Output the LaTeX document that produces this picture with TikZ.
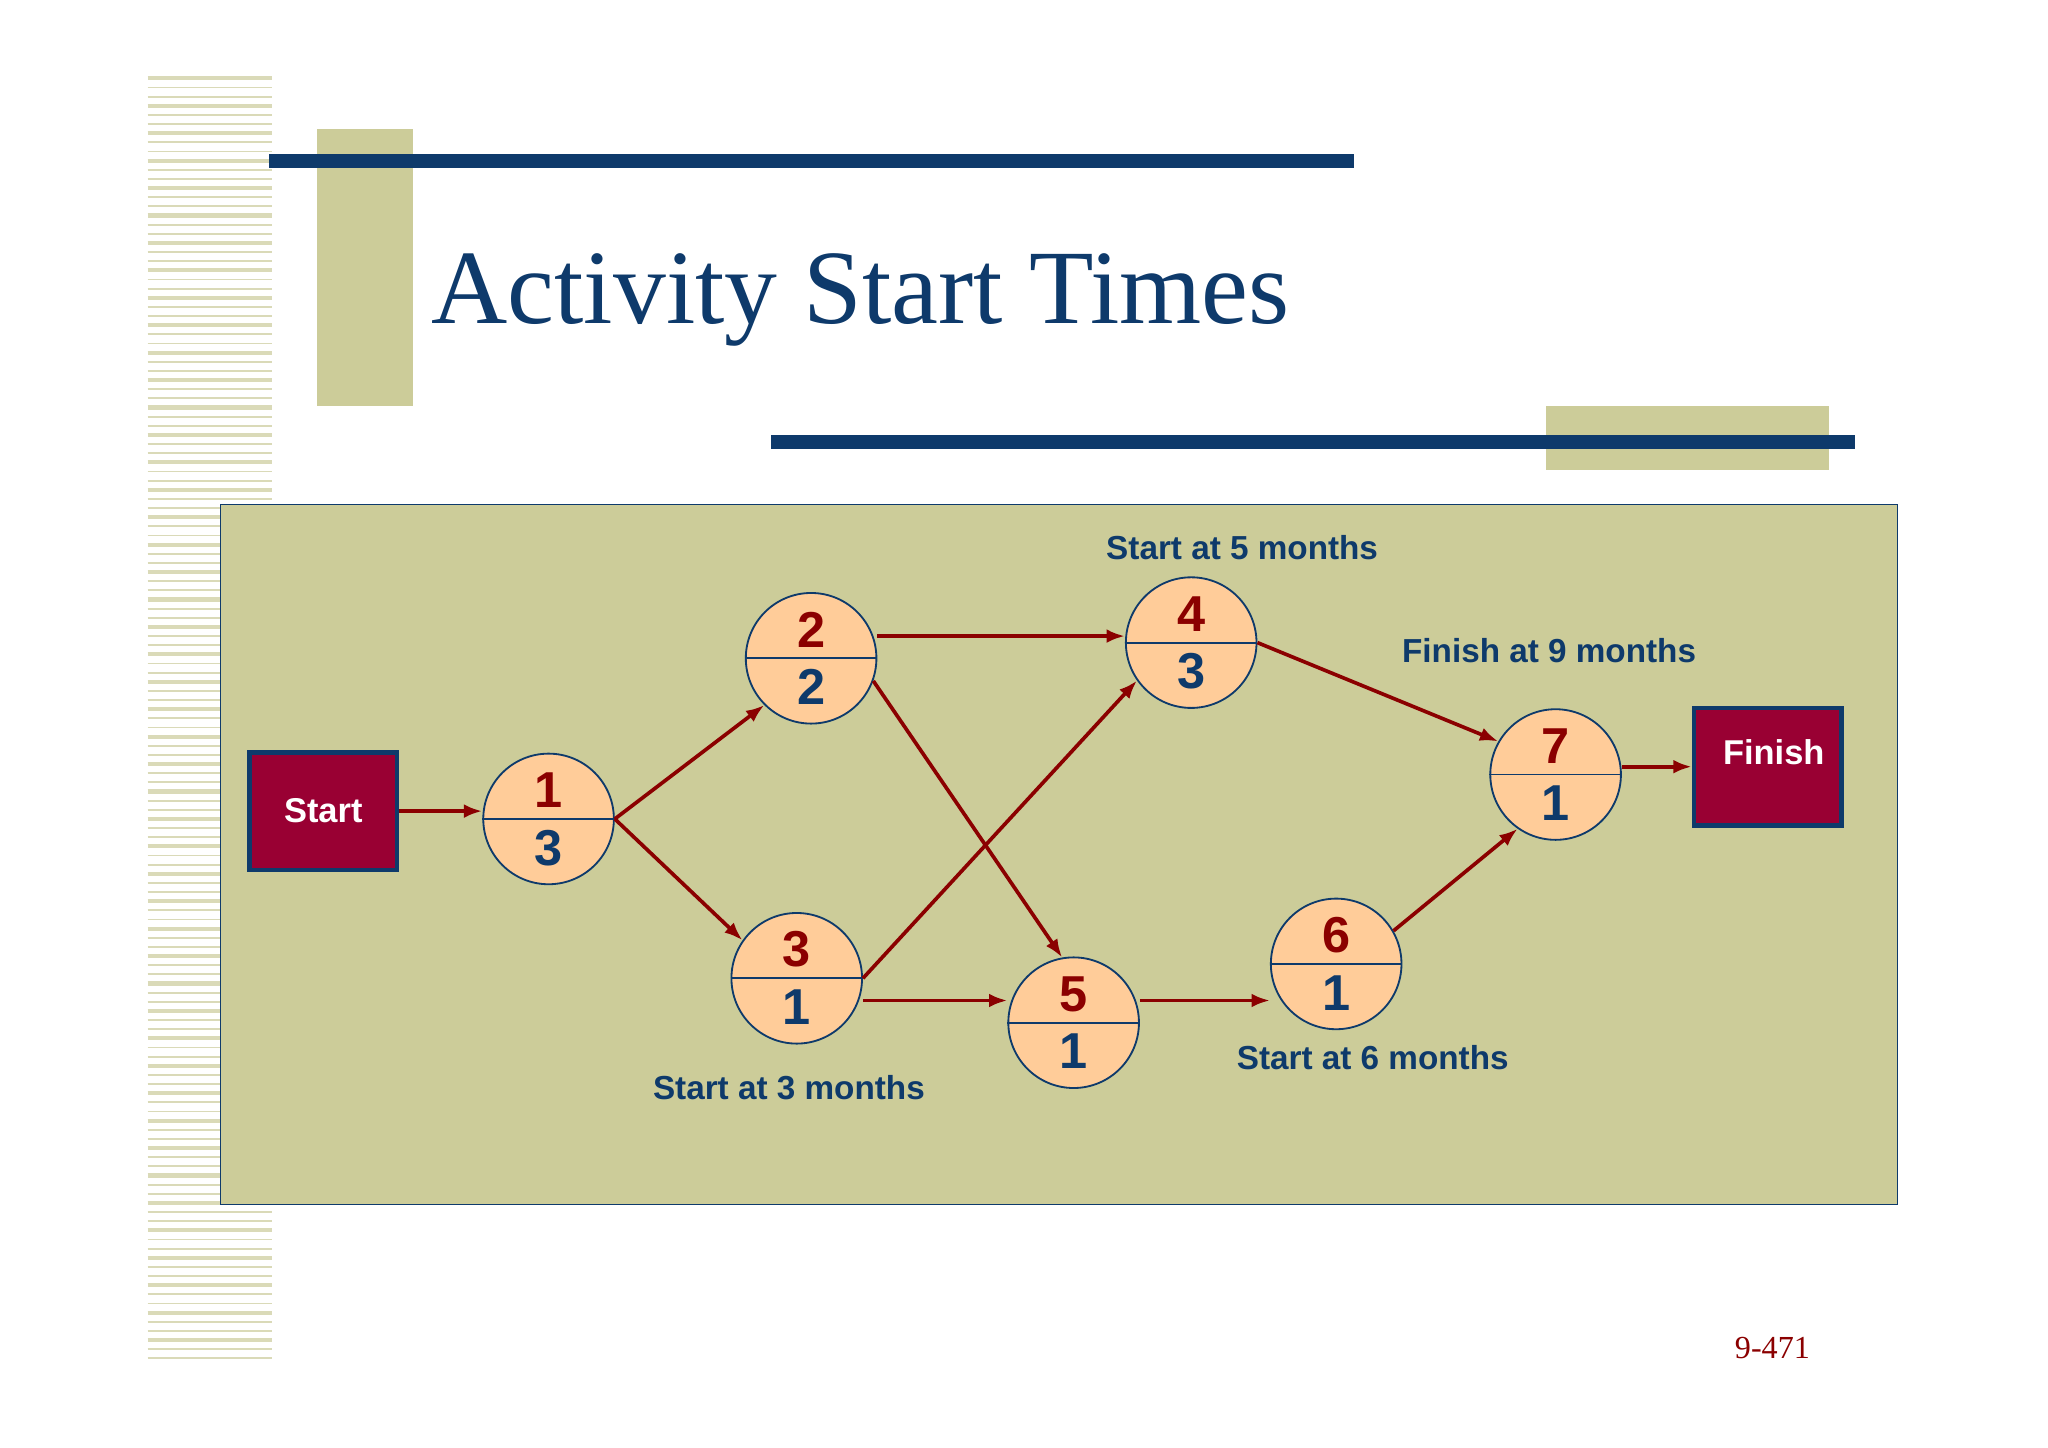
\documentclass[tikz,border=0pt]{standalone}
\usepackage{fontspec}
\setmainfont{Liberation Serif}
\setsansfont{Liberation Sans}
\usetikzlibrary{arrows.meta}
\definecolor{navy}{HTML}{0E3A6B}
\definecolor{olive}{HTML}{CCCC99}
\definecolor{oliveL}{HTML}{DADAB8}
\definecolor{peach}{HTML}{FFCC99}
\definecolor{dred}{HTML}{8B0000}
\definecolor{boxred}{HTML}{990033}
\tikzset{
 act/.style={circle,draw=navy,thick,fill=peach,minimum size=100*0.02cm,inner sep=0pt},
 lab/.style={font=\sffamily\bfseries\fontsize{14.5}{16}\selectfont,text=navy},
 con/.style={draw=dred,line width=1.6pt,-{Latex[length=8pt,width=6pt]}},
 endbox/.style={draw=navy,line width=2pt,fill=boxred,text=white,font=\sffamily\bfseries\fontsize{15}{17}\selectfont,minimum width=113*0.02cm,minimum height=90*0.02cm}
}
\newcommand{\actnode}[4]{%
 \node[act] (#1) at (#2) {};
 \draw[navy,thick] (#1.west) -- (#1.east);
 \node[font=\sffamily\bfseries\fontsize{22}{22}\selectfont,text=dred] at ([yshift=22*0.02cm]#1.center) {#3};
 \node[font=\sffamily\bfseries\fontsize{22}{22}\selectfont,text=navy] at ([yshift=-22*0.02cm]#1.center) {#4};}
\begin{document}
\begin{tikzpicture}[x=0.02cm,y=-0.02cm]
\useasboundingbox[fill=white] (0,0) rectangle (1568,1108);
% left stripes
\foreach \i in {0,...,140}{
 \pgfmathsetmacro{\yy}{60+7*\i}
 \pgfmathsetmacro{\w}{mod(\i,3)==0?1.8:0.8}
 \draw[oliveL,line width=\w pt] (113,\yy) -- (208,\yy);
}
\fill[olive] (243,99) rectangle (316,311);
\fill[navy] (206,118) rectangle (1037,129);
\node[anchor=base west,inner sep=0pt,text=navy,font=\fontsize{46}{50}\selectfont] (title) at (330,248) {Activity Start Times};
\fill[olive] (1184,311) rectangle (1400,360);
\fill[navy] (590,333) rectangle (1420,344);
% panel
\draw[navy,fill=olive] (169,386) rectangle (1453,922);
\node[endbox] (start) at (247.5,621) {Start};
\node[endbox,anchor=north,minimum height=0pt,inner sep=0pt,fill=none,draw=none] at (1353.5,560) {};
\node[endbox,text height=0pt] (finish) at (1353.5,587) {};
\node[text=white,font=\sffamily\bfseries\fontsize{15}{17}\selectfont] at (1358,576) {Finish};
\actnode{n1}{420,627}{1}{3}
\actnode{n2}{621,504}{2}{2}
\actnode{n3}{610,749}{3}{1}
\actnode{n4}{912,492}{4}{3}
\actnode{n5}{822,783}{5}{1}
\actnode{n6}{1023,738}{6}{1}
\actnode{n7}{1191,593}{7}{1}
\draw[con] (start.east|-0,621) -- (n1.west|-0,621);
\draw[con] (n1.east) -- (n2.225);
\draw[con] (n1.east) -- (n3.145);
\draw[con] (n2.east|-0,487) -- (n4.west|-0,487);
\draw[con] (n2.-20) -- (n5.100);
\draw[con] (n3.east) -- (n4.215);
\draw[con] (n3.east|-0,766) -- (n5.west|-0,766);
\draw[con] (n4.east) -- (n7.150);
\draw[con] (n5.east|-0,766) -- (n6.west|-0,766);
\draw[con] (n6.30) -- (n7.235);
\draw[con] (n7.east|-0,587) -- (finish.west|-0,587);
\node[lab] (l1) at (951,419) {Start at 5 months};
\node[lab] (l2) at (1186,498) {Finish at 9 months};
\node[lab] (l3) at (604,833) {Start at 3 months};
\node[lab] (l4) at (1051,810) {Start at 6 months};
\node[text=dred,font=\fontsize{14}{16}\selectfont] (pg) at (1357,1032) {9-471};
\end{tikzpicture}
\end{document}
